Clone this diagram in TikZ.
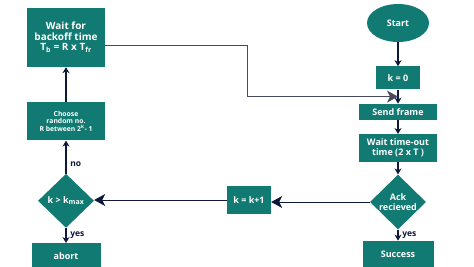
\documentclass[tikz,border=0pt]{standalone}
\usepackage{fontspec}
\setmainfont{Open Sans}
\usetikzlibrary{positioning,arrows.meta,shapes.geometric,calc}
\definecolor{flowteal}{RGB}{17,122,114}
\definecolor{flownavy}{RGB}{13,24,58}

\begin{document}
\begin{tikzpicture}[x=1pt, y=-1pt,
    font=\bfseries\fontsize{9}{10}\selectfont,
    box/.style={fill=flowteal, text=white, align=center, inner sep=2pt},
    decide/.style={box, diamond, aspect=1, inner sep=0pt,
                   minimum width=56pt, minimum height=54pt},
    term/.style={box, ellipse, minimum width=62pt, minimum height=38pt},
    flow/.style={-{Stealth[length=6pt,width=7pt]}, line width=2pt, flownavy},
    back/.style={-{Stealth[length=11pt,width=12pt,inset=3pt]}, line width=0.8pt, flownavy},
    lbl/.style={font=\bfseries\fontsize{8.5}{10}\selectfont, text=flownavy},
  ]
  \useasboundingbox (0,0) rectangle (474,266);
  % main column (right)
  \node[term] (start) at (398,23) {Start};
  \node[box, minimum width=44pt, minimum height=23pt, below=24pt of start] (k0) {k = 0};
  \node[box, minimum width=78pt, minimum height=16pt, below=14pt of k0] (send) {Send frame};
  \node[box, minimum width=78pt, minimum height=28pt, below=14pt of send] (timeout)
    {Wait time-out\\time (2 x T )};
  \node[decide, below=12pt of timeout] (ack) {Ack\\recieved};
  \node[box, minimum width=71pt, minimum height=26pt, below=11pt of ack] (success) {Success};
  % retry column (left)
  \node[box, font=\bfseries\fontsize{10}{10.5}\selectfont, minimum width=78pt,
        minimum height=59pt] (wait) at (66,37.5)
    {Wait for\\backoff time\\T\textsubscript{b} = R x T\textsubscript{fr}};
  \node[box, font=\bfseries\fontsize{6.8}{7.6}\selectfont, minimum width=78pt,
        minimum height=38pt, below=35pt of wait] (choose)
    {Choose\\random no.\\R between 2\textsuperscript{k}- 1};
  \node[decide, below=33pt of choose] (kmax) {k > k\textsubscript{\fontsize{7}{8}\selectfont max}};
  \node[box, minimum width=69pt, minimum height=26pt, below=15pt of kmax] (abort) {abort};
  % counter in between
  \node[box, minimum width=44pt, minimum height=28pt] (kplus) at (249,200) {k = k+1};
  % helper points for the re-send line
  \coordinate (join) at ($(k0.south)!0.5!(send.north)$);
  \coordinate (turn) at (247,0 |- join);
  % connectors
  \draw[flow] (start) -- (k0);
  \draw[flow] (k0) -- (send);
  \draw[flow] (send) -- (timeout);
  \draw[flow] (timeout) -- (ack);
  \draw[flow] (ack) -- node[lbl, right] {yes} (success);
  \draw[flow] (kmax) -- node[lbl, right] {yes} (abort);
  \draw[flow] (kmax) -- node[lbl, right, pos=0.3] {no} (choose);
  \draw[flow] (choose) -- (wait);
  \draw[back] (ack.west) -- (ack.west -| kplus.east);
  \draw[back] (kplus.west) -- (kplus.west -| kmax.east);
  \draw[back, gray!50!flownavy] ([yshift=-8pt]wait.east) -| (turn) -- (join);
\end{tikzpicture}
\end{document}
